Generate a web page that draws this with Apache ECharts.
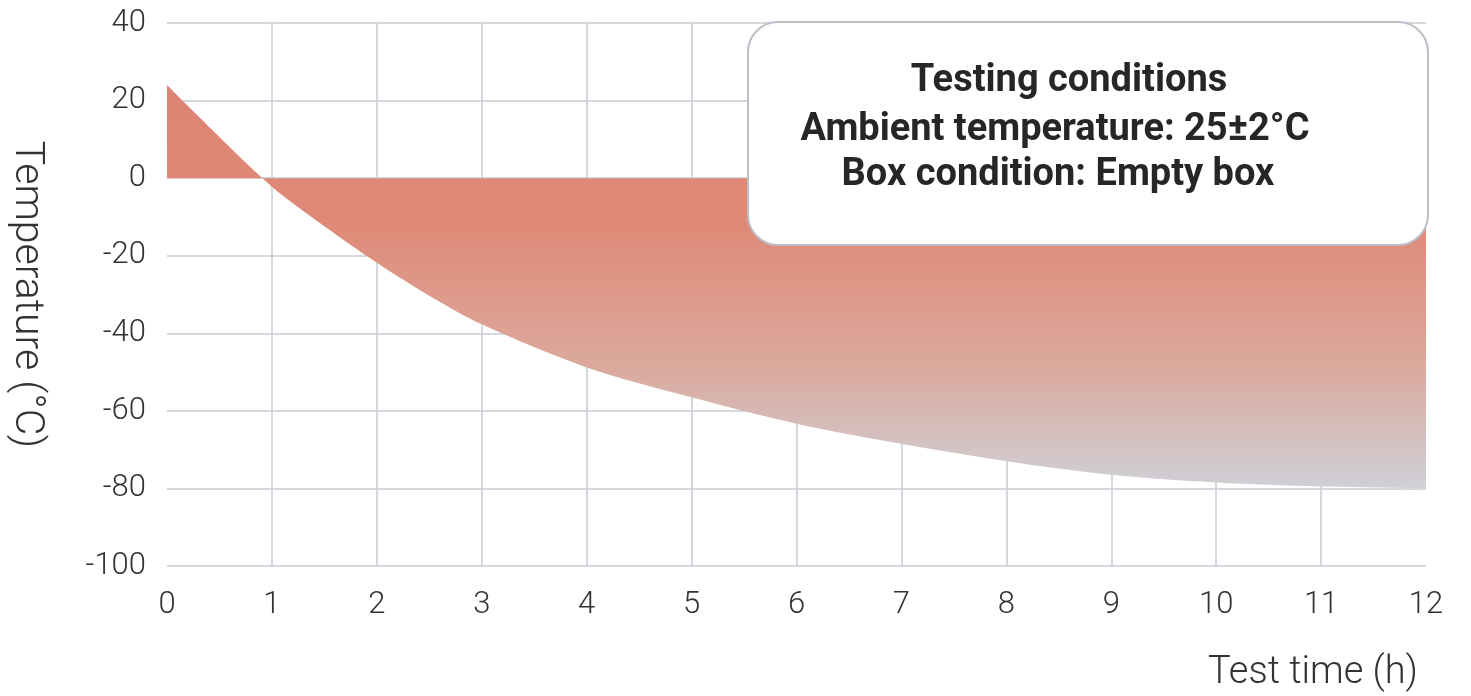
<!DOCTYPE html>
<html>
<head>
<meta charset="utf-8">
<script src="https://cdn.jsdelivr.net/npm/echarts@6/dist/echarts.min.js"></script>
<style>
html,body{margin:0;padding:0;background:#fff;}
#chart{width:1471px;height:696px;}
</style>
</head>
<body>
<div id="chart"></div>
<script>
// Data
const testTime = [0, 0.5, 1, 1.5, 2, 2.5, 3, 4, 5, 6, 7, 8, 9, 10, 11, 12];
const temperature = [24, 10.6, -2.2, -12.4, -21.8, -30.3, -37.7, -48.8, -56.5, -63.3, -68.5, -73, -76.5, -78.5, -79.5, -80];
const xTicks = [0, 12, 1];      // min, max, interval
const yTicks = [-100, 40, 20];  // min, max, interval
const xAxisTitle = 'Test time (h)';
const yAxisTitle = 'Temperature (°C)';
const boxLines = ['Testing conditions', 'Ambient temperature: 25±2°C', 'Box condition: Empty box'];

const chart = echarts.init(document.getElementById('chart'));
const seriesData = testTime.map((t, i) => [t, temperature[i]]);
const boxText = { fontFamily: 'Roboto', fontSize: 38, fontWeight: 'bold', fill: '#262626', align: 'center', verticalAlign: 'middle' };

chart.setOption({
  backgroundColor: '#ffffff',
  animation: false,
  grid: { left: 167, right: 45, top: 23, bottom: 130, containLabel: false, outerBoundsMode: 'none' },
  xAxis: {
    type: 'value',
    min: xTicks[0], max: xTicks[1], interval: xTicks[2],
    axisLine: { show: false },
    axisTick: { show: false },
    axisLabel: { fontFamily: 'Roboto', fontSize: 31, fontWeight: 300, color: '#333333', margin: 24 },
    splitLine: { show: true, showMinLine: false, showMaxLine: false, lineStyle: { color: '#c7ccd4', width: 1.5 } }
  },
  yAxis: {
    type: 'value',
    min: yTicks[0], max: yTicks[1], interval: yTicks[2],
    name: yAxisTitle,
    nameLocation: 'middle',
    nameRotate: -90,
    nameGap: 120,
    nameTextStyle: { fontFamily: 'Roboto', fontSize: 41, fontWeight: 300, color: '#333333' },
    axisLine: { show: false },
    axisTick: { show: false },
    axisLabel: { fontFamily: 'Roboto', fontSize: 31, fontWeight: 300, color: '#333333', margin: 21 },
    splitLine: { show: true, lineStyle: { color: '#c7ccd4', width: 1.5 } }
  },
  series: [{
    type: 'line',
    data: seriesData,
    smooth: 0.3,
    symbol: 'none',
    lineStyle: { width: 0 },
    areaStyle: {
      origin: 0,
      opacity: 1,
      color: new echarts.graphic.LinearGradient(0, 0, 0, 1, [
        { offset: 0, color: '#dd8473' },
        { offset: 0.35, color: '#df8a78' },
        { offset: 0.7, color: '#dba99d' },
        { offset: 1, color: '#cfd0d7' }
      ])
    }
  }],
  graphic: [
    {
      type: 'rect',
      shape: { x: 748, y: 22, width: 680, height: 223, r: 30 },
      style: { fill: '#ffffff', stroke: '#b9bec7', lineWidth: 2 },
      z: 10
    },
    { type: 'text', x: 1069, y: 81, z: 11, style: Object.assign({ text: boxLines[0] }, boxText) },
    { type: 'text', x: 1055, y: 130, z: 11, style: Object.assign({ text: boxLines[1] }, boxText) },
    { type: 'text', x: 1058, y: 175, z: 11, style: Object.assign({ text: boxLines[2] }, boxText) },
    {
      type: 'text', x: 1418, y: 673, z: 11,
      style: { text: xAxisTitle, fontFamily: 'Roboto', fontSize: 38, fontWeight: 300, fill: '#333333', align: 'right', verticalAlign: 'middle' }
    }
  ]
});
</script>
</body>
</html>
